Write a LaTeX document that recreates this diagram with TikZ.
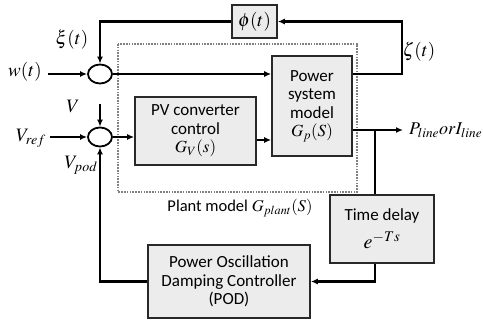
\documentclass[tikz,border=0pt]{standalone}
\usepackage{mathptmx}
\usepackage{fontspec}
\setmainfont{Carlito}
\usetikzlibrary{arrows.meta,positioning,calc,shapes.geometric}
\definecolor{boxgray}{RGB}{236,236,236}
\definecolor{edgegray}{RGB}{40,40,40}

\begin{document}
\begin{tikzpicture}[x=1pt,y=-1pt,
  blk/.style={draw=edgegray,fill=boxgray,line width=1.6pt,align=center,
    font=\fontsize{17}{18.5}\selectfont,inner sep=0pt},
  sumj/.style={draw=black,line width=1.8pt,ellipse,fill=white,
    minimum width=24pt,minimum height=19pt,inner sep=0pt},
  arr/.style={-{Latex[length=7pt,width=6pt]},line width=2.2pt},
  ln/.style={line width=2.2pt},
  lbl/.style={font=\fontsize{19}{19}\selectfont,inner sep=0pt}
]
\useasboundingbox (0,0) rectangle (483,324);
% plant boundary
\draw[gray,line width=1.1pt,dash pattern=on 1.6pt off 1.2pt] (118,44) rectangle (357,192);
\node[lbl,font=\fontsize{16.5}{16.5}\selectfont] (plant) at (240,208) {Plant model $G_{plant}(S)$};

% blocks
\node[blk,minimum width=121pt,minimum height=68pt] (pvc) at (195.5,131) {PV converter\\control\\$G_V(s)$};
\node[blk,minimum width=80pt,minimum height=100pt] (psm) at (312,106) {Power\\system\\model\\$G_p(S)$};
\node[blk,minimum width=45pt,minimum height=33pt,font=\fontsize{19}{19}\selectfont] (phi) at (254.5,21.5) {$\phi(t)$};
\node[blk,minimum width=104pt,minimum height=68pt] (td) at (382,229) {Time delay\\[7pt]{\fontsize{20}{20}\selectfont$e^{-Ts}$}};
\node[blk,minimum width=162pt,minimum height=73pt] (pod) at (229,281.5) {Power Oscillation\\Damping Controller\\(POD)};

% summing junctions
\node[sumj] (s1) at (100,74) {};
\node[sumj] (s2) at (100,137) {};

% free ends
\coordinate (win) at (48,74);
\coordinate (vrefin) at (50,137);
\coordinate (vin) at (100,104);
\coordinate (zc) at (402,74);
\coordinate (out) at (403,130);
\coordinate (br) at (375,130);

% labels
\node[lbl] (wl) at (25,72) {$w(t)$};
\node[lbl] (xil) at (72,40) {$\xi(t)$};
\node[lbl] (vl) at (73,106) {$V$};
\node[lbl] (vrefl) at (31,138) {$V_{ref}$};
\node[lbl] (vpodl) at (81,165) {$V_{pod}$};
\node[lbl] (zetal) at (419,52) {$\zeta(t)$};
\node[lbl,anchor=west,font=\fontsize{18}{18}\selectfont] (outl) at (409,130) {$P_{line} or I_{line}$};

% signal flow
\draw[arr] (win) -- (s1);
\draw[arr] (s1) -- (psm.west |- s1);
\draw[arr] (phi.west) -| (s1.north);
\draw[arr] (psm.east |- zc) -- (zc) |- (phi.east);
\draw[arr] (vrefin) -- (s2);
\draw[arr] (vin) -- (s2.north);
\draw[arr] (s2) -- (pvc.west |- s2);
\draw[arr] ([yshift=-9pt]pvc.east) -- ([yshift=-9pt]pvc.east -| psm.west);
\draw[arr] (psm.east |- out) -- (out);
\draw[ln] (br) -- (br |- td.north);
\draw[arr] (br |- td.south) |- (pod.east);
\draw[arr] (pod.west) -| (s2.south);
\end{tikzpicture}
\end{document}
